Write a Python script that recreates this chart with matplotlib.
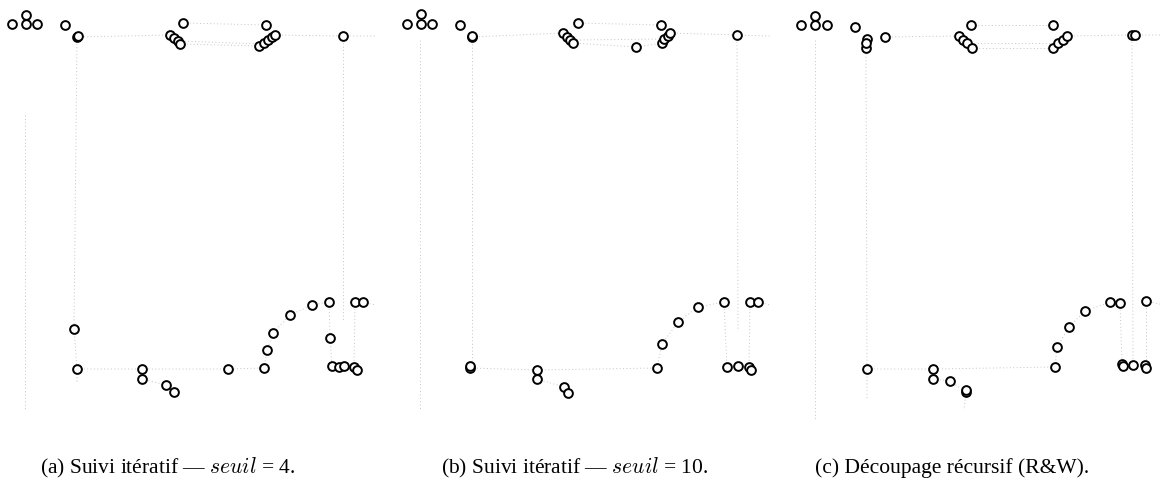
import matplotlib
matplotlib.use("Agg")
import matplotlib.pyplot as plt

plt.rcParams['font.family'] = ['Liberation Serif', 'DejaVu Serif']
plt.rcParams['mathtext.fontset'] = 'cm'

# points of each panel (local pixel-like coordinates, y downwards)
a_x = [12, 26, 26, 37, 65, 77, 78, 170, 174, 178, 180, 183, 266, 259, 264, 268, 272, 275, 343,
       74, 77, 142, 142, 166, 174, 228, 264, 267, 273, 290, 312, 329, 330, 332, 339, 344, 354, 357, 355, 363]
a_y = [24, 15, 24, 24, 25, 37, 36, 35, 38, 41, 44, 23, 25, 46, 43, 40, 37, 35, 36,
       329, 369, 369, 379, 385, 392, 369, 368, 350, 333, 315, 305, 302, 338, 366, 367, 366, 367, 370, 302, 302]

b_x = [12, 26, 26, 37, 65, 77, 77, 168, 172, 175, 178, 183, 266, 241, 267, 269, 273, 275, 342,
       75, 75, 142, 142, 169, 173, 262, 267, 283, 303, 329, 332, 343, 354, 356, 355, 363]
b_y = [24, 14, 24, 24, 25, 37, 36, 33, 37, 40, 43, 23, 25, 47, 43, 39, 36, 33, 35,
       368, 366, 370, 379, 387, 393, 368, 344, 322, 307, 302, 367, 366, 367, 370, 302, 302]

c_x = [12, 26, 26, 38, 66, 78, 77, 77, 96, 170, 174, 178, 183, 182, 264, 264, 269, 274, 278, 343, 346,
       78, 144, 144, 161, 177, 177, 266, 268, 280, 296, 321, 331, 357, 333, 334, 344, 356, 357]
c_y = [25, 16, 25, 25, 27, 39, 48, 43, 37, 36, 40, 43, 48, 25, 25, 48, 43, 40, 36, 35, 35,
       369, 369, 379, 381, 392, 390, 367, 347, 327, 311, 302, 303, 301, 364, 366, 365, 365, 368]

# faint dotted links between points
a_links = [
    [(77, 37), (170, 35)], [(183, 23), (266, 25)], [(180, 44), (259, 46)], [(178, 41), (262, 44)],
    [(275, 35), (343, 36), (375, 36)], [(25, 115), (25, 410)], [(77, 37), (74, 329), (77, 369), (77, 382)],
    [(343, 36), (343, 320)], [(355, 302), (354, 367)], [(329, 302), (330, 338), (332, 366)],
    [(77, 369), (142, 369), (228, 369), (264, 368)], [(142, 379), (166, 385), (174, 392)],
    [(264, 368), (267, 350), (273, 333), (290, 315), (312, 305), (329, 302)],
    [(332, 366), (339, 367), (344, 366), (354, 367)], [(363, 302), (375, 305)],
]
b_links = [
    [(77, 37), (168, 33)], [(183, 23), (266, 25)], [(178, 43), (241, 47), (267, 43)], [(175, 40), (269, 39)],
    [(275, 33), (342, 35), (375, 36)], [(25, 40), (25, 410)], [(77, 37), (77, 368)],
    [(342, 35), (343, 330)], [(355, 302), (354, 367)], [(329, 302), (332, 367)],
    [(75, 368), (142, 370), (262, 368)], [(142, 379), (169, 387), (173, 393), (175, 400)],
    [(262, 368), (267, 344), (283, 322), (303, 307), (329, 302)],
    [(332, 367), (343, 366), (354, 367)], [(363, 302), (375, 305)],
]
c_links = [
    [(96, 37), (170, 36)], [(182, 25), (264, 25)], [(183, 48), (264, 48)], [(178, 43), (269, 43)],
    [(278, 36), (343, 35), (375, 35)], [(26, 40), (26, 420)], [(77, 50), (78, 369), (78, 400)],
    [(343, 35), (344, 365)], [(331, 303), (333, 364)], [(357, 301), (357, 368)],
    [(78, 369), (144, 369), (266, 367)], [(144, 379), (161, 381), (177, 392), (175, 410)],
    [(266, 367), (268, 347), (280, 327), (296, 311), (321, 302), (331, 303)],
    [(334, 366), (344, 365), (356, 365)], [(357, 301), (375, 305)],
]

captions = ["(a) Suivi itératif — $seuil$ = 4.",
            "(b) Suivi itératif — $seuil$ = 10.",
            "(c) Découpage récursif (R&W)."]

W, H = 1162, 490
fig = plt.figure(figsize=(W / 100, H / 100), dpi=100)

offsets = [0, 395, 789]
cap_x = [168, 575, 952]
panels = [(a_x, a_y, a_links), (b_x, b_y, b_links), (c_x, c_y, c_links)]

for off, (px, py, links), cap, cx in zip(offsets, panels, captions, cap_x):
    ax = fig.add_axes([off / W, 60 / H, 390 / W, 430 / H])
    ax.set_xlim(0, 390)
    ax.set_ylim(430, 0)
    ax.axis('off')
    for seg in links:
        xs = [p[0] for p in seg]
        ys = [p[1] for p in seg]
        ax.plot(xs, ys, ls=(0, (1, 2.5)), lw=0.7, color='#c4c4c4', zorder=1)
    ax.plot(px, py, 'o', ms=6.3, mfc='white', mec='black', mew=1.4, ls='none', zorder=2)
    fig.text(cx / W, 1 - 468 / H, cap, ha='center', va='center', fontsize=15.5)

fig.savefig("out.png", dpi=100)
